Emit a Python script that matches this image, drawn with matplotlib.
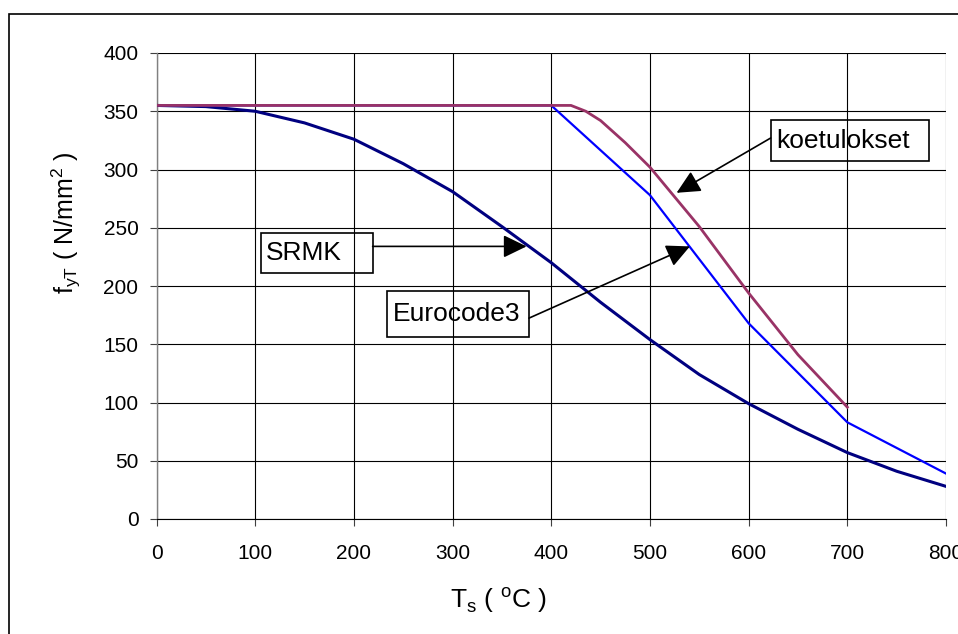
import matplotlib
matplotlib.use("Agg")
from matplotlib import pyplot as plt
from matplotlib.patches import Rectangle

plt.rcParams['font.family'] = ['Liberation Sans', 'DejaVu Sans']
plt.rcParams['mathtext.fontset'] = 'custom'
plt.rcParams['mathtext.rm'] = 'Liberation Sans'

# SRMK curve
t_srmk = [0, 50, 100, 150, 200, 250, 300, 350, 400, 450, 500, 550, 600, 650, 700, 750, 800]
f_srmk = [355, 354, 350, 340, 326, 305, 281, 251, 220, 186, 154, 124, 99, 77, 57, 41, 28]

# Eurocode3
t_ec3 = [0, 100, 200, 300, 400, 500, 600, 700, 800]
f_ec3 = [355, 355, 355, 355, 355, 278, 168, 83, 39]

# koetulokset (test results)
t_koe = [0, 420, 435, 450, 475, 500, 550, 600, 650, 700]
f_koe = [355, 355, 350, 342, 323, 302, 251, 194, 141, 96]

xticks = list(range(0, 801, 100))
yticks = list(range(0, 401, 50))

W, H = 958, 634
fig = plt.figure(figsize=(W / 100, H / 100), dpi=100)
ax = fig.add_axes([156.5 / W, 1 - 519 / H, (946 - 156.5) / W, (519 - 53) / H])

ax.plot(t_srmk, f_srmk, color='#000080', lw=2.2, zorder=3, solid_joinstyle='round')
ax.plot(t_ec3, f_ec3, color='#0000FF', lw=1.6, zorder=4)
ax.plot(t_koe, f_koe, color='#993366', lw=2.0, zorder=5, solid_joinstyle='round')

ax.set_xlim(0, 800)
ax.set_ylim(0, 400)
ax.set_xticks(xticks)
ax.set_yticks(yticks)
ax.grid(True, color='black', lw=0.8)
ax.set_axisbelow(True)
ax.tick_params(axis='both', labelsize=15, direction='out', length=5, color='#404040')
ax.tick_params(axis='y', pad=8)
ax.tick_params(axis='x', pad=13)
for s in ['top', 'right']:
    ax.spines[s].set_visible(False)
ax.spines['left'].set_color('#808080')
ax.spines['bottom'].set_color('black')
ax.spines['left'].set_linewidth(1.0)

# label boxes (drawn transparent, grid shows through)
boxes = [
    ('SRMK', 105.6, 211.1, 219.0, 245.4, 110.9, 228.3),
    ('Eurocode3', 233.2, 156.1, 377.4, 196.1, 239.9, 176.1),
    ('koetulokset', 622.3, 307.0, 782.7, 342.2, 628.4, 324.6),
]
for txt, x0, y0, x1, y1, tx, ty in boxes:
    ax.add_patch(Rectangle((x0, y0), x1 - x0, y1 - y0, fill=False,
                           ec='black', lw=1.2, zorder=6))
    ax.text(tx, ty, txt, fontsize=19, ha='left', va='center', zorder=7)

arrows = [
    ((219.0, 234.0), (375, 234)),
    ((377.4, 172.4), (540.5, 234)),
    ((622.3, 327.0), (527, 280)),
]
for start, tip in arrows:
    ax.annotate('', xy=tip, xytext=start,
                arrowprops=dict(arrowstyle='-|>,head_length=0.72,head_width=0.35',
                                mutation_scale=20, color='black', lw=1.2,
                                shrinkA=0, shrinkB=0),
                zorder=8)

fig.text(498 / W, 1 - 600 / H, r'T$_\mathregular{s}$ ( $^\mathregular{o}$C )',
         fontsize=19, ha='center', va='center')
fig.text(66 / W, 1 - 223 / H, r'f$_\mathregular{yT}$ ( N/mm$^\mathregular{2}$ )',
         fontsize=18, ha='center', va='center', rotation=90)

# outer frame (runs off the right and bottom edges)
fig.patches.append(Rectangle((9 / W, -0.05), 1.2, 620 / H + 0.05,
                             transform=fig.transFigure, fill=False,
                             ec='black', lw=1.2))

fig.savefig('out.png', dpi=100)
